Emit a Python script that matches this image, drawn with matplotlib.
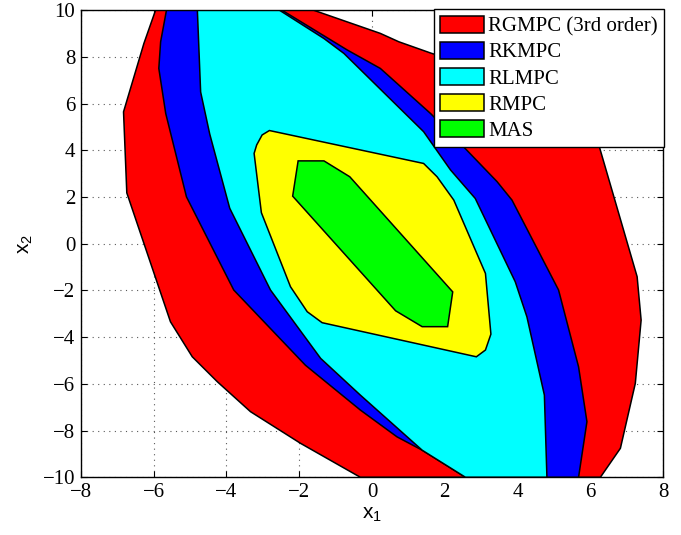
import matplotlib
matplotlib.use('Agg')
import matplotlib.pyplot as plt

# polygon vertices (x1, x2)
labels = ['RGMPC (3rd order)', 'RKMPC', 'RLMPC', 'RMPC', 'MAS']

rgmpc_x1 = [-5.95, -1.6, 0.23, 0.74, 1.63, 3.8, 6.0, 7.29, 7.40, 7.24, 6.83, 6.28,
            -0.32, -1.96, -3.34, -4.25, -4.94, -5.54, -6.74, -6.83, -6.27]
rgmpc_x2 = [10, 10, 9.01, 8.65, 8.16, 7.1, 5.5, -1.41, -3.27, -5.98, -8.76, -10,
            -10, -8.55, -7.19, -5.91, -4.84, -3.34, 2.18, 5.65, 8.58]

rkmpc_x1 = [-5.65, -2.47, -0.68, 0.23, 1.61, 2.52, 3.44, 3.85, 5.13, 5.68, 5.91, 5.68,
            2.57, 1.38, 0.69, -0.32, -1.83, -3.80, -5.10, -5.67, -5.86, -5.81]
rkmpc_x2 = [10, 10, 8.3, 7.51, 5.58, 4.15, 2.66, 1.87, -1.98, -5.27, -7.62, -10,
            -10, -8.84, -8.27, -7.12, -5.2, -1.98, 2.01, 5.58, 7.51, 8.65]

rlmpc_x1 = [-4.80, -2.54, -1.32, -0.77, 1.42, 2.16, 2.84, 3.94, 4.26, 4.74, 4.81,
            2.57, 1.38, -0.32, -1.41, -2.79, -3.91, -4.46, -4.71]
rlmpc_x2 = [10, 10, 8.79, 8.15, 4.8, 3.16, 1.94, -1.63, -3.13, -6.48, -10,
            -10, -8.84, -6.48, -4.91, -1.98, 1.52, 4.7, 6.5]

rmpc_x1 = [-2.82, 1.42, 1.79, 2.25, 3.12, 3.27, 3.12, 2.87, -1.37, -1.78, -2.24,
           -3.04, -3.24, -3.17, -3.02]
rmpc_x2 = [4.85, 3.44, 2.87, 1.87, -1.27, -3.87, -4.55, -4.84, -3.38, -2.91, -1.84,
           1.33, 3.87, 4.23, 4.66]

mas_x1 = [-2.03, -1.32, -0.61, 2.22, 2.08, 1.38, 0.65, -2.18]
mas_x2 = [3.55, 3.55, 2.87, -2.06, -3.55, -3.55, -2.87, 2.04]

x_ticks = [-8, -6, -4, -2, 0, 2, 4, 6, 8]
y_ticks = [-10, -8, -6, -4, -2, 0, 2, 4, 6, 8, 10]

colors = ['#ff0000', '#0000ff', '#00ffff', '#ffff00', '#00ff00']

plt.rcParams['font.family'] = 'Liberation Serif'
plt.rcParams['mathtext.default'] = 'regular'

fig = plt.figure(figsize=(6.81, 5.35), dpi=100)
ax = fig.add_axes([0.1189, 0.1079, 0.8546, 0.8729])

polys = [(rgmpc_x1, rgmpc_x2), (rkmpc_x1, rkmpc_x2), (rlmpc_x1, rlmpc_x2),
         (rmpc_x1, rmpc_x2), (mas_x1, mas_x2)]
handles = []
for (px, py), c, lab in zip(polys, colors, labels):
    h = ax.fill(px, py, facecolor=c, edgecolor='black', linewidth=1.1, label=lab)
    handles.append(h[0])

ax.set_xlim(-8, 8)
ax.set_ylim(-10, 10)
ax.set_xticks(x_ticks)
ax.set_yticks(y_ticks)
ax.set_axisbelow(True)
ax.grid(True, linestyle=(0, (1, 4)), linewidth=0.8, color='0.35')
ax.tick_params(direction='in', top=True, right=True, length=4, width=0.8,
               labelsize=15, pad=4)
for s in ax.spines.values():
    s.set_linewidth(1.0)

ax.set_xlabel('x$_1$', fontfamily='Liberation Sans', fontsize=15, labelpad=2)
ax.set_ylabel('x$_2$', fontfamily='Liberation Sans', fontsize=15, labelpad=6)

leg = ax.legend(handles=handles, loc='upper right', bbox_to_anchor=(1.002, 1.002),
                borderaxespad=0, fontsize=15, fancybox=False, framealpha=1,
                edgecolor='black', handlelength=2.1, handleheight=0.9,
                handletextpad=0.2, labelspacing=0.25, borderpad=0.3)
leg.get_frame().set_linewidth(1.0)

fig.savefig('out.png', dpi=100)
